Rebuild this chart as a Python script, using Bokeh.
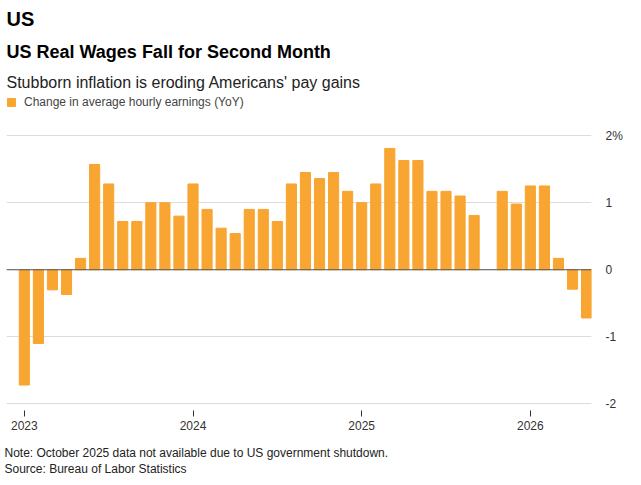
from bokeh.plotting import figure
from bokeh.models import Title, Legend, LegendItem, FixedTicker, Range1d, Span
from bokeh.embed import file_html
from bokeh.resources import INLINE
import numpy as np

months = list(range(41))  # Jan 2023 .. May 2026
values = [-1.72, -1.10, -0.30, -0.37, 0.17, 1.57, 1.28, 0.72, 0.72, 1.00, 1.00, 0.80,
          1.28, 0.90, 0.62, 0.54, 0.90, 0.90, 0.72, 1.28, 1.45, 1.36, 1.45, 1.17,
          1.00, 1.28, 1.81, 1.63, 1.63, 1.17, 1.17, 1.10, 0.81, np.nan, 1.17, 0.98,
          1.25, 1.25, 0.17, -0.29, -0.72]
year_ticks = [0, 12, 24, 36]
year_labels = ["2023", "2024", "2025", "2026"]
y_ticks = [-2, -1, 0, 1, 2]
y_labels = ["-2", "-1", "0", "1", "2%"]

FONT = "Liberation Sans"
p = figure(width=625, height=475, output_backend="svg", toolbar_location=None,
           x_range=Range1d(-1.27, 40.35), y_range=Range1d(-2.1, 2.6),
           y_axis_location="right", min_border_left=6, min_border_right=8,
           min_border_top=2, min_border_bottom=2)
p.outline_line_color = None
r = p.vbar(x=months, top=values, width=0.72, color="#f8a531")

p.xgrid.grid_line_color = None
p.ygrid.grid_line_color = "#dcdcdc"
p.ygrid.ticker = FixedTicker(ticks=y_ticks)
p.add_layout(Span(location=0, dimension="width", line_color="#555555", line_width=1))

p.xaxis.ticker = FixedTicker(ticks=year_ticks)
p.xaxis.major_label_overrides = {t: l for t, l in zip(year_ticks, year_labels)}
p.xaxis.axis_line_color = None
p.xaxis.minor_tick_line_color = None
p.xaxis.major_tick_in = 0
p.xaxis.major_tick_out = 6
p.xaxis.major_tick_line_color = "#333333"
p.xaxis.major_label_text_font = FONT
p.xaxis.major_label_text_font_size = "12px"
p.xaxis.major_label_text_color = "#333333"
p.xaxis.major_label_standoff = 4

p.yaxis.ticker = FixedTicker(ticks=y_ticks)
p.yaxis.major_label_overrides = {t: l for t, l in zip(y_ticks, y_labels)}
p.yaxis.axis_line_color = None
p.yaxis.major_tick_line_color = None
p.yaxis.minor_tick_line_color = None
p.yaxis.major_label_text_baseline = "bottom"
p.yaxis.major_label_standoff = 8
p.yaxis.major_label_text_font = FONT
p.yaxis.major_label_text_font_size = "12px"
p.yaxis.major_label_text_color = "#333333"

legend = Legend(items=[LegendItem(label="Change in average hourly earnings (YoY)", renderers=[r])],
                location="top_left", orientation="horizontal", border_line_color=None,
                background_fill_alpha=0,
                label_text_font=FONT, label_text_font_size="12px", glyph_width=10, glyph_height=10,
                padding=0, margin=0, label_standoff=8, spacing=0)
p.add_layout(legend)
p.add_layout(Title(text="Stubborn inflation is eroding Americans' pay gains", text_font=FONT,
                   text_font_size="16px", text_font_style="normal", text_color="#222222"), "above")
p.add_layout(Title(text="US Real Wages Fall for Second Month", text_font=FONT,
                   text_font_size="18px", text_font_style="bold", text_color="#000000"), "above")
p.add_layout(Title(text="US", text_font=FONT, text_font_size="20px", text_font_style="bold",
                   text_color="#000000"), "above")

p.add_layout(Title(text=" ", text_font=FONT, text_font_size="8px", standoff=0), "below")
p.add_layout(Title(text="Note: October 2025 data not available due to US government shutdown.",
                   text_font=FONT, text_font_size="12px", text_font_style="normal",
                   text_color="#222222", standoff=0, offset=-2), "below")
p.add_layout(Title(text="Source: Bureau of Labor Statistics", text_font=FONT, text_font_size="12px",
                   text_font_style="normal", text_color="#222222", standoff=0, offset=-2), "below")

open("out.html", "w").write(file_html(p, INLINE))
